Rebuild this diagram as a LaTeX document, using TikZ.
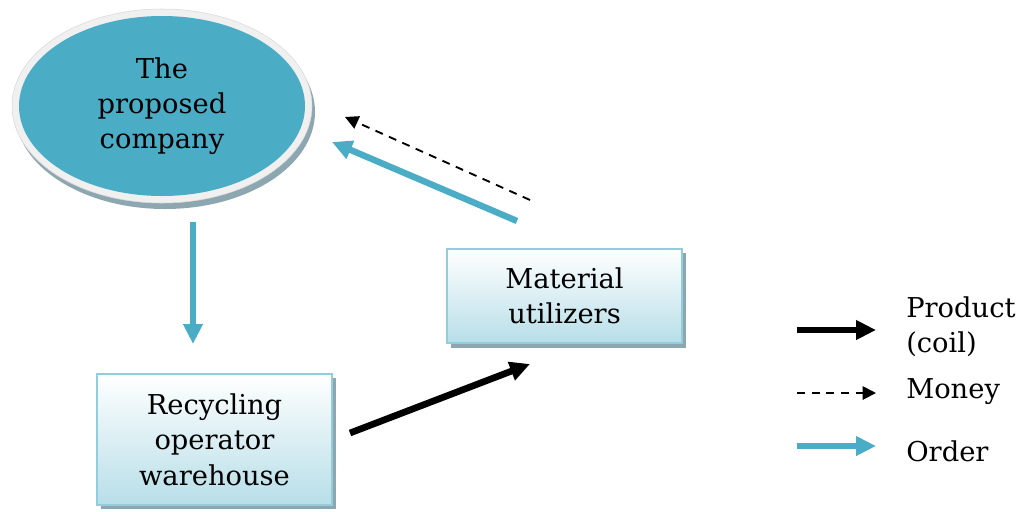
\documentclass[tikz,border=0pt]{standalone}
\usepackage{fontspec}
\setmainfont{DejaVu Serif}
\usetikzlibrary{arrows.meta,shapes.geometric}
\definecolor{teal5}{HTML}{4BACC6}
\definecolor{rim}{HTML}{F0F0F0}
\definecolor{dropgrey}{HTML}{8DA7B0}
\definecolor{boxline}{HTML}{92CDDC}
\definecolor{boxlow}{HTML}{B7DEE8}
\tikzset{
  lbl/.style={font=\fontsize{20.5}{26.5}\selectfont, align=center, text=black},
  boxnode/.style={draw=boxline, line width=1.3pt, top color=white, bottom color=boxlow,
    inner sep=0pt, lbl},
  dropshadow/.style={fill=dropgrey},
  order/.style={draw=teal5, line width=4.8pt, -{Triangle[length=15pt,width=14pt]}},
  product/.style={draw=black, line width=5pt, -{Triangle[length=15pt,width=14pt]}},
  money/.style={draw=black, line width=1.4pt, dash pattern=on 6pt off 5pt,
    -{Triangle[length=10pt,width=10pt]}},
}
\begin{document}
\begin{tikzpicture}[x=0.75pt,y=-0.75pt]
\useasboundingbox (0,0) rectangle (1030,511);

% the company: shadow, light rim and teal face
\path[dropshadow] (165,112) ellipse [x radius=150, y radius=97];
\fill[rim, draw=white!85!black, line width=0.4pt] (162,106) ellipse [x radius=150, y radius=97];
\node[ellipse, fill=teal5, minimum width=286*0.75pt, minimum height=180*0.75pt, inner sep=0pt, lbl]
  (comp) at (162,106) {The\\proposed\\company};

% boxes with drop shadows
\path[dropshadow] (451,253) rectangle (686,348);
\node[boxnode, minimum width=235*0.75pt, minimum height=94*0.75pt] (mat) at (564.5,296) {Material\\utilizers};
\path[dropshadow] (101,378) rectangle (336,509);
\node[boxnode, minimum width=235*0.75pt, minimum height=131*0.75pt] (rec) at (214.5,439.5) {Recycling\\operator\\warehouse};

% flow arrows
\coordinate (o1s) at (193,222);
\coordinate (o1e) at (193,344);
\draw[order] (o1s) -- (o1e);
\coordinate (p1s) at (350,433);
\coordinate (p1e) at (530,364);
\draw[product] (p1s) -- (p1e);
\coordinate (o2s) at (517,221);
\coordinate (o2e) at (332,142);
\draw[order] (o2s) -- (o2e);
\coordinate (m1s) at (530,200);
\coordinate (m1e) at (345,117);
\draw[money] (m1s) -- (m1e);

% legend
\coordinate (l1s) at (797,330); \coordinate (l1e) at (876,330);
\draw[product] (l1s) -- (l1e);
\coordinate (l2s) at (797,393); \coordinate (l2e) at (876,393);
\draw[money] (l2s) -- (l2e);
\coordinate (l3s) at (797,446); \coordinate (l3e) at (876,446);
\draw[order] (l3s) -- (l3e);
\node[lbl, align=left, anchor=west, inner sep=0pt] (t1) at (906,327) {Product\\(coil)};
\node[lbl, anchor=west, inner sep=0pt] (t2) at (906,392) {Money};
\node[lbl, anchor=west, inner sep=0pt] (t3) at (906,451) {Order};
\end{tikzpicture}
\end{document}
